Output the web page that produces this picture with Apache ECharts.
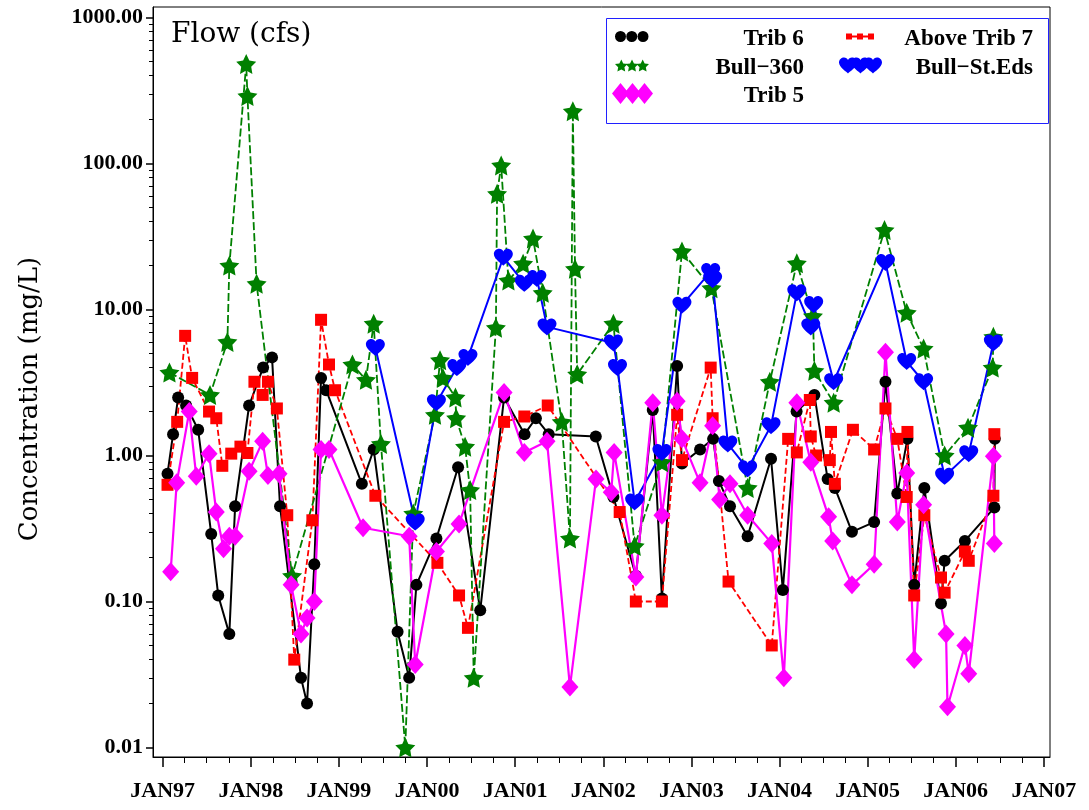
<!DOCTYPE html>
<html>
<head>
<meta charset="utf-8">
<script src="https://cdn.jsdelivr.net/npm/echarts@6/dist/echarts.min.js"></script>
<style>
  html, body { margin: 0; padding: 0; background: #fff; }
  #chart { width: 1089px; height: 810px; }
</style>
</head>
<body>
<div id="chart"></div>
<script>
// sample dates and concentrations (mg/L)
const trib6Dates = ['1997-01-21', '1997-02-13', '1997-03-06', '1997-04-08', '1997-05-28', '1997-07-21', '1997-08-19', '1997-10-04', '1997-10-28', '1997-12-25',
  '1998-02-21', '1998-03-30', '1998-05-02', '1998-07-28', '1998-08-22', '1998-09-21', '1998-10-19', '1998-11-09', '1999-04-06', '1999-05-25',
  '1999-09-01', '1999-10-19', '1999-11-18', '2000-02-09', '2000-05-09', '2000-08-09', '2000-11-16', '2001-02-09', '2001-03-28', '2001-05-20',
  '2001-12-01', '2002-02-12', '2002-05-16', '2002-07-25', '2002-09-01', '2002-11-03', '2002-11-23', '2003-02-06', '2003-04-01', '2003-04-25',
  '2003-06-10', '2003-08-22', '2003-11-27', '2004-01-15', '2004-03-12', '2004-05-25', '2004-07-19', '2004-08-18', '2004-10-28', '2005-01-28',
  '2005-03-16', '2005-05-04', '2005-06-15', '2005-07-13', '2005-08-24', '2005-11-01', '2005-11-16', '2006-02-08', '2006-06-10', '2006-06-12']
const trib6Values = [0.75, 1.4, 2.5, 2.2, 1.5, 0.29, 0.11, 0.06, 0.45, 2.2,
  4.0, 4.7, 0.45, 0.03, 0.02, 0.18, 3.4, 2.8, 0.64, 1.1,
  0.062, 0.03, 0.13, 0.27, 0.83, 0.087, 2.5, 1.4, 1.8, 1.4,
  1.35, 0.52, 0.15, 2.05, 0.105, 4.1, 0.88, 1.1, 1.3, 0.67,
  0.45, 0.28, 0.95, 0.12, 2.0, 2.6, 0.69, 0.6, 0.30, 0.35,
  3.2, 0.55, 1.3, 0.13, 0.6, 0.097, 0.19, 0.26, 0.44, 1.3]

const trib7Dates = ['1997-01-21', '1997-03-02', '1997-04-04', '1997-05-03', '1997-07-12', '1997-08-11', '1997-09-05', '1997-10-12', '1997-11-19', '1997-12-18',
  '1998-01-16', '1998-02-19', '1998-03-13', '1998-04-19', '1998-06-01', '1998-06-30', '1998-09-13', '1998-10-19', '1998-11-21', '1998-12-16',
  '1999-06-01', '2000-02-13', '2000-05-13', '2000-06-19', '2000-11-16', '2001-02-08', '2001-05-16', '2002-03-10', '2002-05-16', '2002-09-01',
  '2002-11-03', '2002-11-23', '2003-03-22', '2003-03-30', '2003-06-04', '2003-11-30', '2004-02-06', '2004-03-13', '2004-05-06', '2004-05-10',
  '2004-06-01', '2004-07-28', '2004-08-02', '2004-08-18', '2004-11-01', '2005-01-28', '2005-03-16', '2005-05-04', '2005-06-12', '2005-06-15',
  '2005-07-13', '2005-08-24', '2005-11-01', '2005-11-16', '2006-02-08', '2006-02-24', '2006-06-06', '2006-06-10']
const trib7Values = [0.63, 1.7, 6.6, 3.4, 2.0, 1.8, 0.85, 1.03, 1.15, 1.04,
  3.2, 2.6, 3.2, 2.1, 0.39, 0.04, 0.36, 8.5, 4.2, 2.8,
  0.53, 0.184, 0.11, 0.066, 1.7, 1.85, 2.2, 0.41, 0.1, 0.1,
  1.9, 0.93, 4.0, 1.8, 0.137, 0.05, 1.3, 1.05, 2.4, 1.35,
  1.0, 0.93, 1.45, 0.64, 1.5, 1.1, 2.1, 1.3, 0.52, 1.45,
  0.11, 0.39, 0.146, 0.115, 0.22, 0.19, 0.53, 1.4]

const bull360Dates = ['1997-01-29', '1997-07-16', '1997-09-26', '1997-10-04', '1997-12-13', '1997-12-18', '1998-01-25', '1998-06-21', '1999-02-26', '1999-04-23',
  '1999-05-25', '1999-06-24', '1999-10-03', '1999-11-05', '2000-02-03', '2000-02-24', '2000-03-07', '2000-04-28', '2000-05-01', '2000-06-07',
  '2000-06-28', '2000-07-13', '2000-10-13', '2000-10-18', '2000-11-04', '2000-12-04', '2001-02-03', '2001-03-16', '2001-04-25', '2001-07-13',
  '2001-08-16', '2001-08-28', '2001-09-06', '2001-09-15', '2002-02-12', '2002-05-11', '2002-09-01', '2002-11-23', '2003-03-25', '2003-08-22',
  '2003-11-22', '2004-03-13', '2004-05-19', '2004-05-25', '2004-08-13', '2005-03-12', '2005-06-12', '2005-08-21', '2005-11-16', '2006-02-21',
  '2006-06-03', '2006-06-06']
const bull360Values = [3.7, 2.6, 6.0, 20, 480, 290, 15, 0.15, 4.2, 3.3,
  8.0, 1.2, 0.01, 0.4, 1.9, 4.5, 3.4, 2.5, 1.8, 1.15,
  0.58, 0.03, 7.5, 62, 97, 15.8, 20.6, 30.6, 13, 1.7,
  0.27, 228, 19, 3.6, 8.0, 0.24, 0.9, 25, 14, 0.6,
  3.2, 20.7, 9.0, 3.8, 2.3, 35, 9.5, 5.4, 1.0, 1.55,
  4.0, 6.5]

const bullStEdsDates = ['1999-06-01', '1999-11-13', '2000-02-09', '2000-05-04', '2000-06-19', '2000-11-13', '2001-02-08', '2001-04-01', '2001-05-13', '2002-02-12',
  '2002-03-01', '2002-05-11', '2002-09-01', '2002-11-23', '2003-03-22', '2003-03-30', '2003-06-01', '2003-08-22', '2003-11-27', '2004-03-13',
  '2004-05-10', '2004-05-22', '2004-08-13', '2005-03-16', '2005-06-12', '2005-08-21', '2005-11-16', '2006-02-24', '2006-06-06']
const bullStEdsValues = [5.5, 0.35, 2.3, 4.0, 4.7, 22.8, 15.1, 16.3, 7.6, 5.9,
  4.0, 0.48, 1.05, 10.7, 18.2, 16, 1.2, 0.81, 1.6, 13,
  7.6, 10.8, 3.2, 21, 4.4, 3.2, 0.72, 1.03, 5.9]

const trib5Dates = ['1997-02-03', '1997-02-28', '1997-04-21', '1997-05-20', '1997-07-12', '1997-08-11', '1997-09-10', '1997-10-04', '1997-10-28', '1997-12-25',
  '1998-02-19', '1998-03-13', '1998-04-28', '1998-06-17', '1998-07-28', '1998-08-22', '1998-09-21', '1998-10-19', '1998-11-21', '1999-04-11',
  '1999-10-19', '1999-11-13', '2000-02-09', '2000-05-13', '2000-11-16', '2001-02-08', '2001-05-13', '2001-08-16', '2001-12-02', '2002-02-03',
  '2002-02-15', '2002-05-16', '2002-07-25', '2002-09-01', '2002-11-03', '2002-11-23', '2003-02-06', '2003-03-30', '2003-04-28', '2003-06-10',
  '2003-08-22', '2003-11-30', '2004-01-19', '2004-03-13', '2004-05-10', '2004-07-23', '2004-08-09', '2004-10-28', '2005-01-28', '2005-03-16',
  '2005-05-04', '2005-06-12', '2005-07-13', '2005-08-21', '2005-11-22', '2005-11-28', '2006-02-08', '2006-02-24', '2006-06-06', '2006-06-10']
const trib5Values = [0.16, 0.65, 2.0, 0.72, 1.03, 0.41, 0.23, 0.28, 0.28, 0.78,
  1.25, 0.73, 0.75, 0.13, 0.06, 0.077, 0.1, 1.1, 1.1, 0.32,
  0.28, 0.037, 0.22, 0.34, 2.7, 1.05, 1.25, 0.026, 0.69, 0.56,
  1.05, 0.147, 2.3, 0.39, 2.35, 1.3, 0.65, 1.6, 0.5, 0.64,
  0.39, 0.25, 0.03, 2.3, 0.9, 0.38, 0.26, 0.13, 0.18, 5.1,
  0.35, 0.76, 0.04, 0.46, 0.06, 0.019, 0.05, 0.032, 0.99, 0.25]

// axis ticks
const yearTicks = [1997, 1998, 1999, 2000, 2001, 2002, 2003, 2004, 2005, 2006, 2007]
const yTicks = [0.01, 0.1, 1, 10, 100, 1000]

// quarter ticks between the years, 2..9 ticks inside each decade
const quarterTicks = []
yearTicks.slice(0, -1).forEach(function (y) {
  quarterTicks.push(y + 0.25, y + 0.5, y + 0.75)
})
const yMinorTicks = []
yTicks.slice(0, -1).forEach(function (dec) {
  for (let k = 2; k <= 9; k++) yMinorTicks.push(+(k * dec).toPrecision(2))
})

// 'YYYY-MM-DD' -> decimal year
function yearOf(d) {
  const p = d.split('-').map(Number)
  const start = Date.UTC(p[0], 0, 1)
  const end = Date.UTC(p[0] + 1, 0, 1)
  return p[0] + (Date.UTC(p[0], p[1] - 1, p[2]) - start) / (end - start)
}

// marker shapes
function star(cx, cy, R) {
  let d = ''
  for (let i = 0; i < 10; i++) {
    const a = -Math.PI / 2 + i * Math.PI / 5
    const r = i % 2 ? R * 0.5 : R
    d += (i ? 'L' : 'M') + (cx + r * Math.cos(a)).toFixed(2) + ',' + (cy + r * Math.sin(a)).toFixed(2) + ' '
  }
  return d + 'Z '
}
function heart(cx, cy) {
  return 'M' + cx + ',' + (cy + 8) + ' c-1,-1.5 -9,-6 -9,-11 c0,-3 2.5,-5 5,-5 c2,0 3.3,1 4,2.5 c0.7,-1.5 2,-2.5 4,-2.5 c2.5,0 5,2 5,5 c0,5 -8,9.5 -9,11 Z '
}
function circle(cx) {
  return 'M' + (cx - 5.5) + ',5.5 a5.5,5.5 0 1,0 11,0 a5.5,5.5 0 1,0 -11,0 Z '
}
function diamond(cx) {
  return 'M' + cx + ',0 L' + (cx + 8.5) + ',10.5 L' + cx + ',21 L' + (cx - 8.5) + ',10.5 Z '
}

const starSymbol = 'path://' + star(0, 0, 10)
const heartSymbol = 'path://' + heart(0, 0)

function pairs(dates, values) {
  return dates.map(function (d, i) { return [yearOf(d), values[i]] })
}

const seriesDefs = [
  { name: 'Trib 6', dates: trib6Dates, values: trib6Values, color: '#000000', symbol: 'circle', size: 12, dash: 'solid', width: 2 },
  { name: 'Above Trib 7', dates: trib7Dates, values: trib7Values, color: '#ff0000', symbol: 'rect', size: 12, dash: [6, 3], width: 1.8 },
  { name: 'Bull−360', dates: bull360Dates, values: bull360Values, color: '#008000', symbol: starSymbol, size: 20, dash: [8, 3], width: 1.8 },
  { name: 'Bull−St.Eds', dates: bullStEdsDates, values: bullStEdsValues, color: '#0000ff', symbol: heartSymbol, size: [19, 17], dash: 'solid', width: 2 },
  { name: 'Trib 5', dates: trib5Dates, values: trib5Values, color: '#ff00ff', symbol: 'diamond', size: [17, 19], dash: 'solid', width: 2.2 }
]

// legend: one block per entry so every icon keeps its own size
const legendSlots = [
  { name: 'Trib 6', left: 615, cy: 38, w: 34, h: 11, icon: circle(5.5) + circle(16.75) + circle(28), textRight: 804 },
  { name: 'Bull−360', left: 615, cy: 67, w: 34, h: 13, icon: star(6.5, 6.5, 6.5) + star(17, 6.5, 6.5) + star(27.5, 6.5, 6.5), textRight: 804 },
  { name: 'Trib 5', left: 612, cy: 95, w: 41, h: 21, icon: diamond(8.5) + diamond(20.5) + diamond(32.5), textRight: 804 },
  { name: 'Above Trib 7', left: 846, cy: 38, w: 28, h: 6, icon: 'M0,0 h6 v6 h-6 Z M11,0 h6 v6 h-6 Z M22,0 h6 v6 h-6 Z M6,2 h5 v2 h-5 Z M17,2 h5 v2 h-5 Z', textRight: 1033 },
  { name: 'Bull−St.Eds', left: 839, cy: 67, w: 43, h: 16, icon: heart(9, 8) + heart(21.5, 8) + heart(34, 8), textRight: 1033 }
]

const boldFont = 'Liberation Serif'
const xMin = 1996.89
const xMax = 2007.07

const chart = echarts.init(document.getElementById('chart'))
const option = {
  animation: false,
  backgroundColor: '#ffffff',
  title: {
    text: 'Flow (cfs)',
    left: 166,
    top: 16,
    textStyle: { fontFamily: 'DejaVu Serif', fontWeight: 'normal', fontSize: 28, color: '#000' }
  },
  legend: legendSlots.map(function (s) {
    const textW = s.textRight - (s.left + s.w + 5)
    return {
      data: [{ name: s.name, icon: 'path://' + s.icon }],
      left: s.left,
      top: s.cy - 15.5,
      padding: 0,
      itemWidth: s.w,
      itemHeight: s.h,
      selectedMode: false,
      itemStyle: { borderWidth: 0 },
      formatter: function (name) { return '{r|' + name + '}' },
      textStyle: {
        rich: {
          r: { width: textW, align: 'right', padding: [5, 0, 0, 0], fontFamily: boldFont, fontWeight: 'bold', fontSize: 23, lineHeight: 26, color: '#000' }
        }
      }
    }
  }),
  graphic: [{
    type: 'rect',
    left: 604,
    top: 16,
    shape: { width: 442, height: 105 },
    style: { fill: 'none', stroke: '#2020ff', lineWidth: 1 }
  }],
  grid: {
    left: 153, right: 39, top: 7, bottom: 53,
    show: true, borderColor: '#000', borderWidth: 1
  },
  xAxis: [{
    type: 'value',
    position: 'bottom',
    min: xMin,
    max: xMax,
    axisLine: { onZero: false, lineStyle: { color: '#000', width: 1 } },
    axisTick: { customValues: yearTicks, length: 10, lineStyle: { color: '#000', width: 1.5 } },
    axisLabel: {
      customValues: yearTicks,
      margin: 23,
      fontFamily: boldFont, fontWeight: 'bold', fontSize: 22, color: '#000',
      formatter: function (v) { return 'JAN' + String(Math.round(v)).slice(2) }
    },
    splitLine: { show: false }
  }, {
    type: 'value',
    position: 'bottom',
    min: xMin,
    max: xMax,
    axisLine: { show: false, onZero: false },
    axisTick: { customValues: quarterTicks, length: 6, lineStyle: { color: '#000', width: 1 } },
    axisLabel: { show: false },
    splitLine: { show: false }
  }],
  yAxis: [{
    type: 'log',
    position: 'left',
    min: 0.00861,
    max: 1180,
    name: 'Concentration (mg/L)',
    nameLocation: 'middle',
    nameGap: 110,
    nameTextStyle: { fontFamily: 'DejaVu Serif', fontSize: 26, color: '#000', padding: [0, 34, 0, 0] },
    axisLine: { show: true, lineStyle: { color: '#000', width: 1 } },
    axisTick: { show: true, customValues: yTicks, length: 7, lineStyle: { color: '#000', width: 1.5 } },
    axisLabel: {
      customValues: yTicks,
      margin: 10,
      fontFamily: boldFont, fontWeight: 'bold', fontSize: 22, color: '#000',
      formatter: function (v) { return Number(v).toFixed(2) }
    },
    splitLine: { show: false }
  }, {
    type: 'log',
    position: 'left',
    min: 0.00861,
    max: 1180,
    axisLine: { show: false },
    axisTick: { show: true, customValues: yMinorTicks, length: 4, lineStyle: { color: '#000', width: 1 } },
    axisLabel: { show: false },
    splitLine: { show: false }
  }],
  series: seriesDefs.map(function (s) {
    return {
      name: s.name,
      type: 'line',
      data: pairs(s.dates, s.values),
      symbol: s.symbol,
      symbolSize: s.size,
      showAllSymbol: true,
      itemStyle: { color: s.color, borderWidth: 0 },
      lineStyle: { color: s.color, width: s.width, type: s.dash },
      emphasis: { disabled: true }
    }
  })
}
chart.setOption(option)
</script>
</body>
</html>
